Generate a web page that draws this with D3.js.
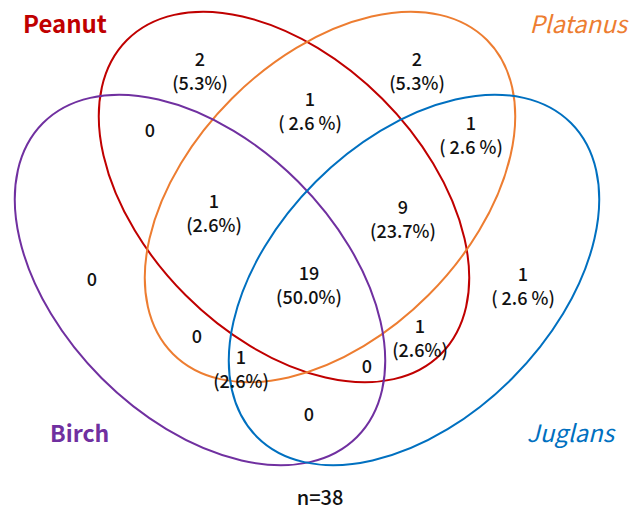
<!DOCTYPE html>
<html>
<head>
<meta charset="utf-8">
<script src="https://cdn.jsdelivr.net/npm/d3@7"></script>
<style>
    body { margin: 0; background: #fff; }
    svg text { font-family: "Noto Sans CJK SC", "Noto Sans", sans-serif; }
</style>
</head>
<body>
<div id="chart"></div>
<script>
// set names, in the order of the membership keys below (Peanut, Platanus, Birch, Juglans)
var setNames = ["Peanut", "Platanus", "Birch", "Juglans"];
var setColors = ["#C00000", "#ED7D31", "#7030A0", "#0070C0"];

// region membership key -> count
var regionKeys = ["1000", "0100", "0010", "0001",
                  "1100", "1010", "1001", "0110", "0101", "0011",
                  "1110", "1101", "1011", "0111", "1111"];
var regionCounts = [2, 2, 0, 1,
                    1, 0, 1, 0, 1, 0,
                    1, 9, 0, 1, 19];
// regions whose percent is written as "( 2.6 %)"
var spacedRegions = ["1100", "0101", "0001"];
var total = 38;

// layout (not data): ellipse geometry and label anchors
var W = 635, H = 510;
var ellipses = [
    {cx: 284, cy: 197, rx: 222, ry: 139, rot: 45},
    {cx: 330, cy: 197, rx: 222, ry: 139, rot: -45},
    {cx: 200, cy: 280, rx: 222, ry: 139, rot: 45},
    {cx: 414, cy: 280, rx: 222, ry: 139, rot: -45}
];
var labelAt = {
    "1000": [200, 58], "0100": [417, 58], "0010": [92, 278], "0001": [523, 273],
    "1100": [310, 98], "1010": [150, 129], "1001": [420, 325], "0110": [197, 335],
    "0101": [471, 122], "0011": [309, 413],
    "1110": [214, 200], "1101": [403, 206], "1011": [367, 365], "0111": [241, 356],
    "1111": [309, 272]
};
var nameAt = [
    {x: 23, y: 33, anchor: "start", weight: "bold", style: "normal"},
    {x: 627, y: 33, anchor: "end", weight: "normal", style: "italic"},
    {x: 50, y: 442, anchor: "start", weight: "bold", style: "normal"},
    {x: 614, y: 442, anchor: "end", weight: "normal", style: "italic"}
];

var pct = d3.format(".1%");

var svg = d3.select("#chart").append("svg")
    .attr("width", W)
    .attr("height", H);

svg.append("g")
    .attr("class", "sets")
    .selectAll("ellipse")
    .data(ellipses)
    .enter()
    .append("ellipse")
    .attr("transform", function (d) { return "translate(" + d.cx + "," + d.cy + ") rotate(" + d.rot + ")"; })
    .attr("rx", function (d) { return d.rx; })
    .attr("ry", function (d) { return d.ry; })
    .attr("fill", "none")
    .attr("stroke", function (d, i) { return setColors[i]; })
    .attr("stroke-width", 2);

var names = svg.append("g").attr("class", "names");
for (var i = 0; i < setNames.length; i++) {
    names.append("text")
        .attr("x", nameAt[i].x)
        .attr("y", nameAt[i].y)
        .attr("text-anchor", nameAt[i].anchor)
        .attr("font-size", i === 2 ? 23 : 24)
        .attr("font-weight", nameAt[i].weight)
        .attr("font-style", nameAt[i].style)
        .attr("fill", setColors[i])
        .text(setNames[i]);
}

var labels = svg.append("g").attr("class", "counts");
for (var j = 0; j < regionKeys.length; j++) {
    var key = regionKeys[j], c = regionCounts[j];
    var pos = labelAt[key];
    labels.append("text")
        .attr("x", pos[0])
        .attr("y", pos[1])
        .attr("text-anchor", "middle")
        .attr("dominant-baseline", "central")
        .attr("font-size", 18)
        .attr("font-weight", 500)
        .attr("fill", "#111")
        .text(c);
    if (c > 0) {
        var p = pct(c / total);
        var txt = spacedRegions.indexOf(key) >= 0 ? "( " + p.replace("%", " %") + ")" : "(" + p + ")";
        labels.append("text")
            .attr("x", pos[0])
            .attr("y", pos[1] + 24)
            .attr("text-anchor", "middle")
            .attr("dominant-baseline", "central")
            .attr("font-size", 18)
            .attr("font-weight", 500)
            .attr("fill", "#111")
            .text(txt);
    }
}

svg.append("text")
    .attr("x", 320)
    .attr("y", 496)
    .attr("text-anchor", "middle")
    .attr("dominant-baseline", "central")
    .attr("font-size", 20)
    .attr("font-weight", 500)
    .attr("fill", "#111")
    .text("n=" + d3.sum(regionCounts));
</script>
</body>
</html>
